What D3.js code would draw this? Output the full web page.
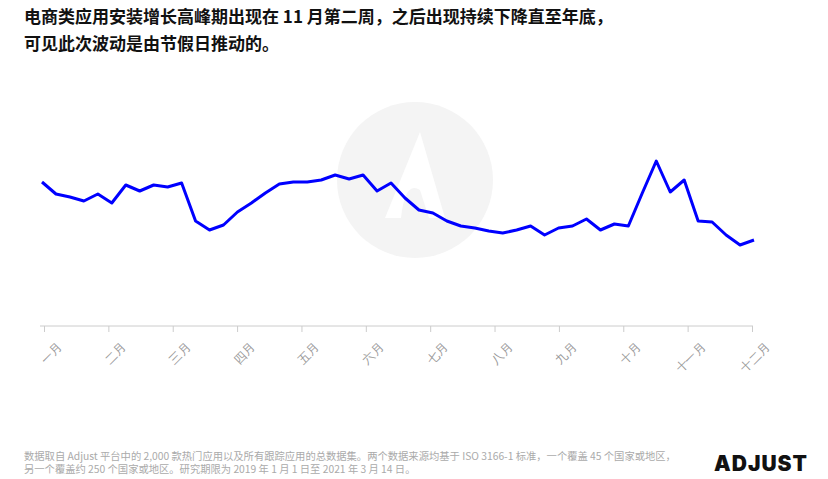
<!DOCTYPE html>
<html><head><meta charset="utf-8">
<script src="https://cdn.jsdelivr.net/npm/d3@7"></script>
<style>body{margin:0;background:#fff}svg{font-family:"Noto Sans CJK SC","Noto Sans",sans-serif}</style>
</head><body><svg id="c" width="828" height="479"></svg>
<script>
const months=["一月","二月","三月","四月","五月","六月","七月","八月","九月","十月","十一月","十二月"];
const values=[144,132,129,125,132,123,141,135,141,139,143,105,96,101,114,123,133,142,144,144,146,151,147,151,135,143,128,116,113,105,100,98,95,93,96,100,91,98,100,107,96,102,100,133,165,134,146,105,104,91,81,86];
const titleLines=["电商类应用安装增长高峰期出现在 11 月第二周，之后出现持续下降直至年底，","可见此次波动是由节假日推动的。"];
const footLines=["数据取自 Adjust 平台中的 2,000 款热门应用以及所有跟踪应用的总数据集。两个数据来源均基于 ISO 3166-1 标准，一个覆盖 45 个国家或地区，","另一个覆盖约 250 个国家或地区。研究期限为 2019 年 1 月 1 日至 2021 年 3 月 14 日。"];
const svg=d3.select("#c");
const wm=svg.append("g").attr("transform","translate(415,180)");
wm.append("circle").attr("r",78).attr("fill","#f4f4f4");
wm.append("path").attr("d","M-30,38 L5,-48 L30,38 L14,38 L5,10 Q-10,0 -14,38 Z").attr("fill","#fff");
svg.selectAll("text.t").data(titleLines).join("text").attr("x",24).attr("y",(d,i)=>23+i*27)
 .attr("font-size",17).attr("font-weight","bold").attr("fill","#111").text(d=>d);
const x=d3.scaleLinear().domain([0,values.length-1]).range([42,754]);
const y=d3.scaleLinear().domain([0,200]).range([326,126]);
const xm=d3.scalePoint().domain(months).range([44,752]);
const ax=svg.append("g").attr("transform","translate(0,326)").call(d3.axisBottom(xm).tickSizeOuter(0).tickSize(6));
ax.select(".domain").attr("stroke","#ccc").attr("d","M40,0H753");
ax.selectAll(".tick line").attr("stroke","#ccc");
ax.selectAll(".tick text").attr("fill","#999").attr("font-size",12).attr("text-anchor","end")
 .attr("y",0).attr("dy",0).attr("transform","translate(18,22) rotate(-45)");
svg.append("path").datum(values).attr("fill","none").attr("stroke","#0000ff").attr("stroke-width",3)
 .attr("stroke-linejoin","round").attr("d",d3.line().x((d,i)=>x(i)).y(d=>y(d)));
svg.selectAll("text.f").data(footLines).join("text").attr("x",24).attr("y",(d,i)=>460+i*13)
 .attr("font-size",10.3).attr("fill","#aaa").text(d=>d);
svg.append("text").attr("x",808).attr("y",471).attr("text-anchor","end").attr("font-size",21)
 .attr("font-weight","900").attr("font-family","Inter,sans-serif").attr("letter-spacing","1").attr("fill","#111").text("ADJUST");
</script></body></html>
